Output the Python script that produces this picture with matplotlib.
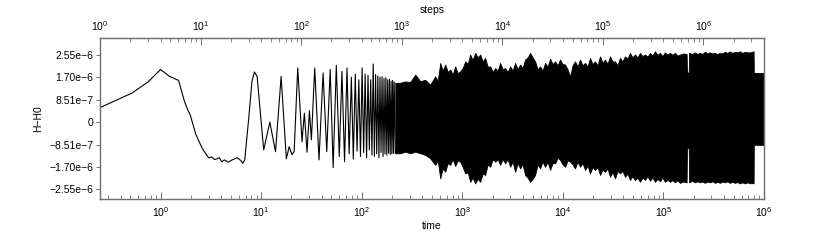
import matplotlib
matplotlib.use('Agg')
import matplotlib.pyplot as plt
from matplotlib.ticker import LogLocator, NullFormatter

plt.rcParams['font.family'] = ['Liberation Sans', 'DejaVu Sans']
plt.rcParams['mathtext.fontset'] = 'custom'
plt.rcParams['mathtext.rm'] = 'Liberation Sans'
plt.rcParams['mathtext.it'] = 'Liberation Sans:italic'
plt.rcParams['mathtext.bf'] = 'Liberation Sans:bold'

SCALE = 1e-6  # H-H0 values below are in units of 1e-6

# resolved part of the curve: (time, H-H0)
early_time = [0.25, 0.52, 0.75, 1.0, 1.23, 1.51, 1.73, 1.87, 1.97, 2.24, 2.6, 3.0,
              3.23, 3.45, 3.62, 3.83, 4.06, 4.32, 4.7, 5.15, 5.78, 6.0, 6.33, 6.56,
              6.87, 7.53, 8.1, 8.58, 9.12, 10.6, 12.2, 13.9, 15.8, 17.8, 19.0, 20.3,
              21.3, 23.1, 25.5, 26.9, 28.6, 30.2, 31.6, 34.1, 37.6, 41.3, 44.9, 48.6,
              52.0, 55.9, 59.8, 63.6, 67.5, 71.4, 75.0, 78.9, 82.5, 86.3, 89.9, 93.6,
              97.2, 100.9, 104.5, 108.2, 111.8, 115.5, 119.1, 122.8, 126.4, 130.1,
              133.7, 137.4, 141.0, 144.7, 148.3, 152.0, 155.6, 159.3, 162.9, 166.6,
              170.2, 173.9, 177.5, 181.2, 184.8, 188.5, 192.1, 195.8, 199.4, 203.1,
              206.7, 210.4, 215.7]
early_dh = [0.55, 1.10, 1.52, 1.99, 1.73, 1.58, 0.78, 0.45, 0.28, -0.46, -1.0, -1.35,
            -1.32, -1.42, -1.39, -1.35, -1.50, -1.43, -1.52, -1.43, -1.35, -1.39, -1.47, -1.56,
            -1.43, 0.15, 1.54, 1.90, 1.73, -1.05, 0.0, -1.12, 1.73, -1.39, -0.93, -1.24,
            -1.10, 2.05, -0.74, 0.34, -1.14, 0.43, -0.67, 2.05, -1.43, 1.86, -1.12, 1.99,
            -1.72, 2.15, -1.30, 1.92, -1.50, 2.05, -1.20, 1.70, -1.40, 1.82, -1.10, 1.60,
            -1.30, 2.05, -1.15, 1.82, -1.35, 1.77, -1.05, 1.60, -1.25, 2.20,
            -1.30, 1.80, -1.20, 1.75, -1.35, 1.70, -1.15, 1.72, -1.30, 1.65,
            -1.20, 1.68, -1.25, 1.60, -1.18, 1.62, -1.22, 1.55, -1.20, 1.58,
            -1.18, 1.52, -1.18]

# dense part: upper / lower envelope of the oscillation
band_time = [215.7, 241.7, 271.0, 303.9, 340.7, 381.9, 428.1, 480.0, 538.2, 569.8,
             603.3, 638.9, 676.6, 716.4, 758.5, 803.1, 850.3, 900.2, 953.1, 1009,
             1069, 1132, 1198, 1268, 1343, 1422, 1506, 1594, 1688, 1788,
             1893, 2004, 2122, 2247, 2379, 2519, 2667, 2824, 2990, 3166,
             3352, 3549, 3758, 3979, 4213, 4461, 4724, 5002, 5296, 5607,
             5937, 6286, 6656, 7048, 7463, 7902, 8366, 8858, 9380, 9931,
             10515, 11134, 11790, 12482, 13215, 13993, 14818, 15689, 16612, 17590,
             18625, 19721, 20881, 22109, 23410, 24788, 26248, 27791, 29425, 31158,
             32993, 34931, 36983, 39160, 41465, 43904, 46487, 49225, 52122, 55184,
             58427, 61867, 65508, 69361, 73440, 77763, 82340, 87183, 92310, 97740,
             103490, 109570, 116010, 122840, 130070, 137730, 145840, 157460, 170000, 171500,
             178500, 180000, 192330, 205500, 217600, 230400, 243950, 258300, 273500, 289600,
             306650, 324700, 343790, 364000, 385420, 408100, 432140, 457600, 484460, 512900,
             543160, 575200, 609010, 644800, 682690, 722800, 754690, 788000, 792000, 1000000]
band_hi = [1.49, 1.49, 1.54, 1.52, 1.80, 1.55, 1.60, 1.42, 1.73, 1.55,
           2.24, 1.95, 2.18, 1.90, 1.99, 1.80, 2.11, 1.85, 1.92, 2.05,
           2.30, 2.20, 2.56, 2.35, 2.62, 2.45, 2.56, 2.30, 2.43, 2.10,
           2.11, 1.90, 2.05, 1.95, 2.24, 2.00, 2.05, 1.90, 2.11, 1.95,
           2.24, 2.00, 2.18, 2.05, 2.37, 2.45, 2.62, 2.45, 2.30, 2.00,
           2.11, 1.95, 2.24, 2.10, 2.40, 2.20, 2.30, 2.15, 2.37, 2.20,
           2.18, 2.00, 1.73, 2.15, 2.30, 2.10, 2.37, 2.15, 2.24, 2.10,
           2.43, 2.20, 2.30, 2.15, 2.49, 2.25, 2.37, 2.20, 2.49, 2.30,
           2.30, 2.15, 2.43, 2.30, 2.49, 2.40, 2.62, 2.45, 2.56, 2.45,
           2.62, 2.50, 2.56, 2.48, 2.62, 2.52, 2.68, 2.55, 2.62, 2.50,
           2.64, 2.55, 2.62, 2.55, 2.62, 2.52, 2.56, 2.60, 2.58, 1.88,
           1.88, 2.62, 2.58, 2.64, 2.58, 2.62, 2.58, 2.66, 2.60, 2.64,
           2.60, 2.62, 2.58, 2.62, 2.60, 2.66, 2.62, 2.68, 2.62, 2.66,
           2.64, 2.68, 2.62, 2.66, 2.64, 2.64, 2.66, 2.68, 1.86, 1.86]
band_lo = [-1.18, -1.18, -1.12, -1.18, -1.12, -1.18, -1.24, -1.37, -1.62, -1.45,
           -2.13, -1.75, -1.88, -1.55, -1.62, -1.40, -1.66, -1.45, -1.50, -1.70,
           -1.94, -1.90, -2.26, -2.10, -2.32, -2.15, -2.26, -1.95, -2.00, -1.60,
           -1.69, -1.40, -1.50, -1.40, -1.62, -1.40, -1.56, -1.40, -1.69, -1.50,
           -1.88, -1.55, -1.75, -1.60, -2.00, -2.10, -2.26, -2.15, -2.00, -1.60,
           -1.75, -1.50, -1.69, -1.50, -1.81, -1.55, -1.56, -1.35, -1.43, -1.60,
           -1.69, -1.45, -1.50, -1.60, -1.75, -1.50, -1.69, -1.55, -1.81, -1.65,
           -1.94, -1.70, -1.81, -1.70, -2.00, -1.80, -1.88, -1.75, -2.07, -1.90,
           -2.13, -1.85, -1.94, -1.85, -2.07, -1.95, -2.19, -2.05, -2.20, -2.10,
           -2.26, -2.10, -2.19, -2.05, -2.22, -2.10, -2.26, -2.15, -2.24, -2.10,
           -2.26, -2.18, -2.26, -2.20, -2.28, -2.20, -2.30, -2.25, -2.28, -0.99,
           -0.99, -2.28, -2.22, -2.28, -2.24, -2.28, -2.25, -2.30, -2.25, -2.28,
           -2.24, -2.30, -2.26, -2.30, -2.25, -2.28, -2.24, -2.30, -2.26, -2.30,
           -2.27, -2.32, -2.28, -2.32, -2.28, -2.32, -2.30, -2.32, -0.86, -0.86]
assert len(band_time) == len(band_hi) == len(band_lo)

ytick_vals = [-2.55, -1.70, -0.851, 0, 0.851, 1.70, 2.55]
ytick_labels = ['\u22122.55e\u22126', '\u22121.70e\u22126', '\u22128.51e\u22127', '0',
                '8.51e\u22127', '1.70e\u22126', '2.55e\u22126']
decades = [1e0, 1e1, 1e2, 1e3, 1e4, 1e5, 1e6]

DT = 0.25  # time per step
SPINE = '#707070'
FS = 7.5

fig = plt.figure(figsize=(8.3, 2.49), dpi=100)
ax = fig.add_axes([0.1205, 0.202, 0.80, 0.647])

ax.plot(early_time, [v * SCALE for v in early_dh], color='k', lw=0.8)
ax.fill_between(band_time, [v * SCALE for v in band_lo], [v * SCALE for v in band_hi],
                color='k', lw=0.6, edgecolor='k')

ax.set_xscale('log')
ax.set_xlim(0.25, 1e6)
ax.set_ylim(-2.9e-6, 3.2e-6)
ax.set_yticks([v * SCALE for v in ytick_vals])
ax.set_yticklabels(ytick_labels)
ax.set_xticks(decades)
ax.set_xlabel('time', fontsize=FS, labelpad=1)
ax.set_ylabel('H\u2212H0', fontsize=FS, labelpad=4)

ax.xaxis.set_minor_locator(LogLocator(base=10, subs=range(2, 10), numticks=100))
ax.xaxis.set_minor_formatter(NullFormatter())
ax.tick_params(axis='x', which='major', direction='in', length=5, width=0.7,
               color=SPINE, labelsize=FS, pad=5)
ax.tick_params(axis='x', which='minor', direction='in', length=2.8, width=0.6, color=SPINE)
ax.tick_params(axis='y', direction='out', length=3, width=0.7, color=SPINE,
               labelsize=FS, pad=2)

# top axis: step count
top = ax.twiny()
top.set_xscale('log')
top.set_xlim(0.25 / DT, 1e6 / DT)
top.set_xticks(decades)
top.set_xlabel('steps', fontsize=FS, labelpad=5)
top.xaxis.set_minor_locator(LogLocator(base=10, subs=range(2, 10), numticks=100))
top.xaxis.set_minor_formatter(NullFormatter())
top.tick_params(axis='x', which='major', direction='in', length=5, width=0.7,
                color=SPINE, labelsize=FS, pad=3)
top.tick_params(axis='x', which='minor', direction='in', length=2.8, width=0.6, color=SPINE)

for a in (ax, top):
    for s in a.spines.values():
        s.set_color(SPINE)
        s.set_linewidth(0.9)

fig.savefig('out.png', dpi=100)
